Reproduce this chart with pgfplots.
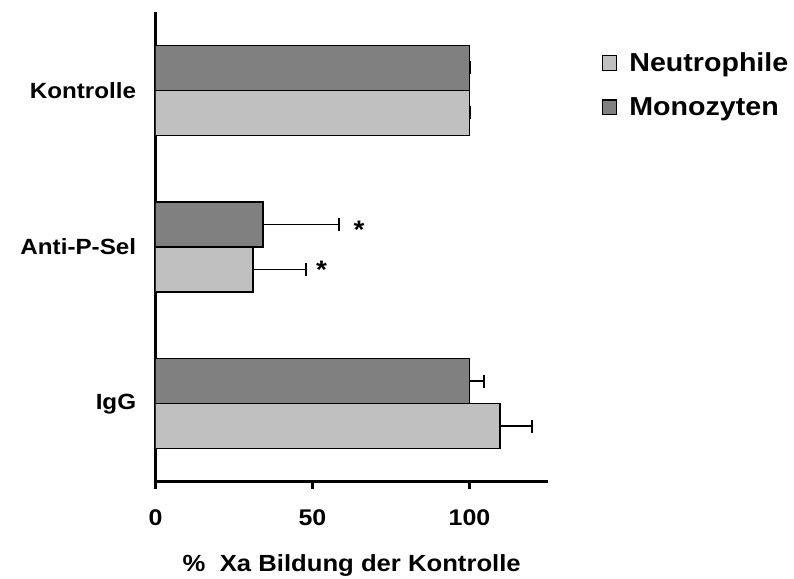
\documentclass[border=0pt]{standalone}
\usepackage{fontspec}
\setmainfont{Liberation Sans}[FakeStretch=1.1]
\usepackage{pgfplots}
\pgfplotsset{compat=1.18}
\definecolor{darkbar}{HTML}{808080}
\definecolor{lightbar}{HTML}{C0C0C0}
\newcommand\fs[1]{\fontsize{#1}{#1}\selectfont\bfseries}
\begin{document}
\begin{tikzpicture}
\path[use as bounding box] (0,0) rectangle (595.5pt,434.25pt);
\begin{axis}[
  at={(116.6pt,72.75pt)}, anchor=south west,
  scale only axis, width=294.4pt, height=352.5pt,
  xmin=0, xmax=125, ymin=-0.5, ymax=2.5,
  axis x line=bottom, axis y line=left,
  axis line style={-, line width=2.25pt, black},
  xtick={0,50,100}, ytick={0,1,2},
  yticklabels={IgG,Anti-P-Sel,Kontrolle},
  tick align=outside, major tick length=5pt,
  x tick style={line width=1.8pt, black},
  y tick style={draw=none},
  /pgf/number format/assume math mode=true,
  x tick label style={font=\fs{17}, yshift=-12pt},
  y tick label style={font=\fs{16.5}, anchor=east, xshift=-6pt},
  xlabel={\%\ \ Xa Bildung der Kontrolle},
  xlabel style={font=\fs{17.5}, at={(axis description cs:0.5,0)}, anchor=center, yshift=-63pt},
  xbar, bar width=33.75pt,
  error bars/error bar style={line width=1.4pt, black},
  legend style={at={(rel axis cs:1.136,0.92)}, anchor=north west, draw=none, fill=none,
    font=\fs{19.5}, row sep=14pt, inner sep=0pt, cells={anchor=west}},
  legend image code/.code={\draw[#1, line width=0.8pt, draw=black] (0pt,-5.5pt) rectangle (11pt,5.5pt);},
]
\addplot[bar shift=-16.9pt, fill=lightbar, draw=black, line width=1.1pt,
  error bars/.cd, x dir=plus, x explicit,
  error bar style={line width=1.4pt, black},
  error mark options={line width=1.4pt, mark size=4.9pt, black, rotate=90}]
  coordinates {(100,2) +- (0.2,0) (31.1,1) +- (16.7,0) (109.7,0) +- (10.1,0)};
\addlegendentry{\hspace{7pt}Neutrophile}
\addplot[bar shift=16.9pt, fill=darkbar, draw=black, line width=1.1pt,
  error bars/.cd, x dir=plus, x explicit,
  error bar style={line width=1.4pt, black},
  error mark options={line width=1.4pt, mark size=4.9pt, black, rotate=90}]
  coordinates {(100,2) +- (0.2,0) (34.3,1) +- (24.1,0) (100,0) +- (4.7,0)};
\addlegendentry{\hspace{7pt}Monozyten}
\node[font=\fs{19}] at (axis cs:64.8,1.11) {*};
\node[font=\fs{19}] at (axis cs:52.9,0.855) {*};
\end{axis}
\end{tikzpicture}
\end{document}
